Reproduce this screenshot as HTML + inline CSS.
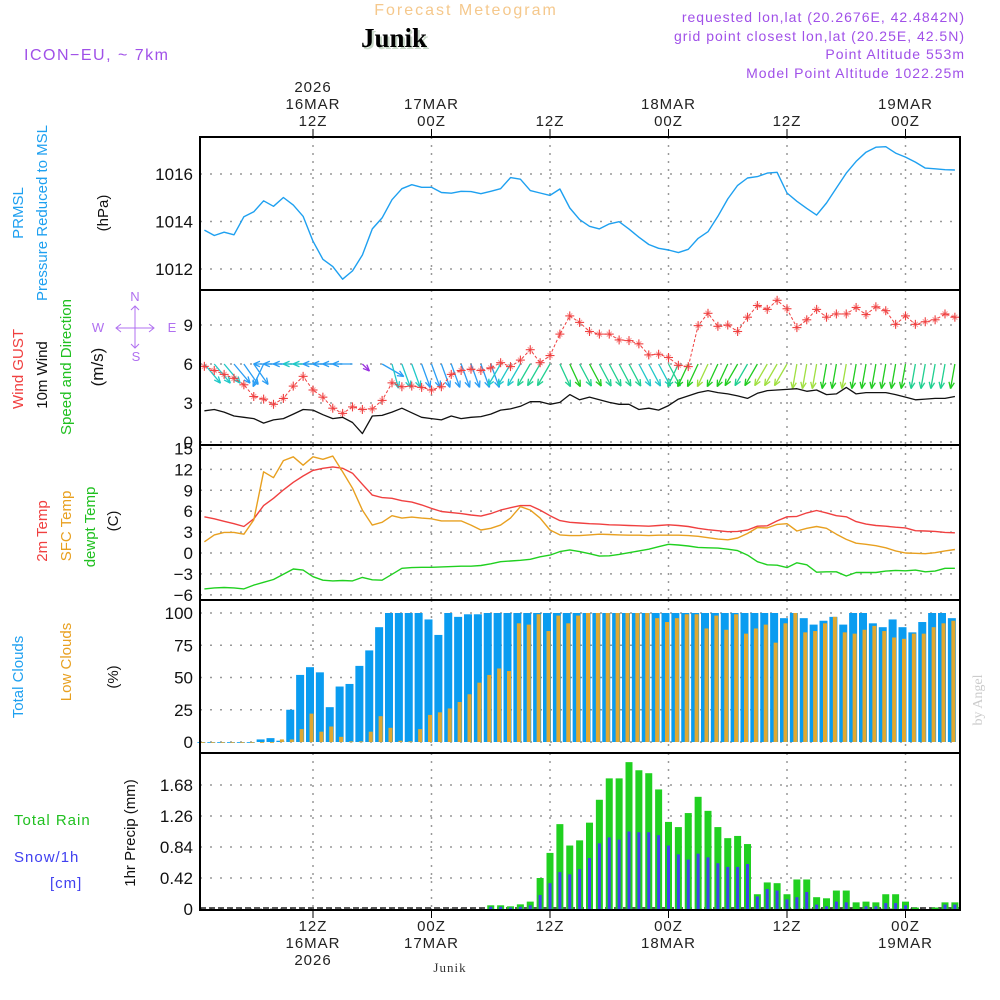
<!DOCTYPE html>
<html><head><meta charset="utf-8">
<style>
html,body{margin:0;padding:0;background:#fff;}
svg{display:block;font-family:"Liberation Sans","DejaVu Sans",sans-serif;}
.t{font-size:15px;fill:#222;letter-spacing:1px;}
.tk{font-size:17px;fill:#111;text-anchor:end;}
</style></head>
<body>
<svg id="chart" width="1000" height="1000" viewBox="0 0 1000 1000" xmlns="http://www.w3.org/2000/svg">
<g id="grid"></g>
<g id="marks"></g>
<g id="frames"></g>
<g id="labels"></g>
</svg>
<script>
// ---- data (hourly, hours since 00Z 16MAR, h = 1..77) ----
const hours = Array.from({length:77},(_,i)=>i+1);
const pressure = [1013.64,1013.41,1013.55,1013.44,1014.20,1014.41,1014.87,1014.64,1015.01,1014.69,1014.22,1013.17,1012.41,1012.10,1011.57,1011.92,1012.59,1013.69,1014.15,1014.92,1015.38,1015.55,1015.44,1015.44,1015.22,1015.19,1015.27,1015.26,1015.17,1015.27,1015.38,1015.85,1015.78,1015.30,1015.20,1015.10,1015.37,1014.57,1014.08,1013.80,1013.69,1013.90,1013.99,1013.68,1013.34,1013.03,1012.87,1012.80,1012.69,1012.83,1013.29,1013.57,1014.22,1014.95,1015.52,1015.83,1015.89,1016.04,1016.07,1015.20,1014.85,1014.55,1014.27,1014.78,1015.41,1016.04,1016.53,1016.92,1017.13,1017.15,1016.88,1016.71,1016.50,1016.25,1016.22,1016.18,1016.17];
const gust = [5.82,5.5,5.2,4.9,4.4,3.5,3.3,2.9,3.35,4.3,5.05,4.0,3.45,2.6,2.2,2.7,2.5,2.55,3.2,4.55,4.25,4.3,4.2,4.0,4.25,5.2,5.5,5.6,5.5,5.7,6.1,5.8,6.3,7.1,6.1,6.65,8.3,9.7,9.2,8.5,8.3,8.3,7.85,7.8,7.55,6.7,6.75,6.5,5.9,5.8,8.95,9.9,8.9,9.0,8.5,9.6,10.5,10.2,10.9,10.25,8.8,9.4,10.2,9.6,9.85,9.85,10.35,9.8,10.4,10.1,9.05,9.7,9.05,9.25,9.4,9.85,9.6];
const windSpeed = [2.4,2.5,2.3,2.0,1.9,1.8,1.45,1.7,1.8,2.15,2.5,2.45,2.1,1.8,1.9,1.5,0.65,2.0,2.05,2.3,2.6,2.25,1.9,1.8,1.7,2.0,1.8,1.9,1.95,2.15,2.45,2.55,2.75,3.1,3.1,2.9,3.05,3.65,3.25,3.45,3.25,3.05,2.9,2.9,2.5,2.6,2.45,2.8,3.3,3.55,3.8,3.95,3.8,3.7,3.55,3.35,3.75,3.95,4.0,4.05,4.1,3.9,4.0,3.65,3.7,4.2,3.7,3.8,3.8,3.8,3.65,3.45,3.25,3.3,3.35,3.35,3.5];
// arrow direction on screen: degrees from straight down, + = tip to the right; null = calm
const windArrowDeg = [40,40,40,40,35,35,-25,-90,-90,-90,-90,-90,-90,-90,-90,-90,45,null,60,15,20,20,20,20,20,20,20,20,20,20,-30,-30,-30,-30,-30,-30,25,25,28,28,28,28,28,28,28,28,28,28,-25,-25,-25,-25,-25,-25,-30,-30,-30,-30,-30,-30,-10,-10,-10,-10,-10,-10,-10,-10,-10,-10,-10,-10,-10,-10,-10,-10,-10];
const temp2m = [5.2,4.9,4.55,4.2,3.8,4.9,6.8,7.85,9.05,10.15,11.05,11.85,12.15,12.35,12.15,11.45,9.85,8.3,7.95,7.85,7.5,7.3,6.9,6.4,5.95,5.8,5.65,5.45,5.3,5.65,6.15,6.5,6.8,6.8,6.15,5.35,4.65,4.4,4.3,4.2,4.15,4.05,4.0,3.95,3.9,3.85,3.95,4.05,3.95,3.8,3.55,3.35,3.2,3.05,3.1,3.3,3.85,3.9,4.6,5.2,5.25,5.75,6.1,5.75,5.35,5.2,4.5,4.15,3.95,3.85,3.7,3.6,3.2,3.15,3.1,2.95,2.9];
const tempSfc = [1.6,2.6,2.95,2.95,2.7,4.75,11.65,10.8,13.25,13.8,12.6,13.8,13.45,13.9,11.65,9.3,6.15,4.0,4.4,5.35,5.0,5.15,5.0,4.9,4.6,4.6,4.6,4.0,3.3,3.55,4.0,5.0,6.65,6.15,5.0,3.3,2.6,2.5,2.5,2.6,2.7,2.65,2.6,2.55,2.55,2.5,2.55,2.55,2.55,2.5,2.4,2.2,2.0,1.9,2.15,2.8,3.65,3.6,4.1,4.2,3.15,3.55,3.8,3.55,2.7,1.95,1.4,1.25,1.05,0.75,0.3,0.0,-0.05,-0.1,0.05,0.3,0.5];
const dewpoint = [-5.15,-5.0,-4.95,-5.0,-5.15,-4.6,-4.2,-3.8,-3.05,-2.3,-2.45,-3.4,-3.9,-4.0,-3.95,-4.0,-3.5,-3.85,-3.9,-3.05,-2.2,-2.1,-2.05,-2.05,-2.0,-1.95,-1.9,-1.9,-1.8,-1.55,-1.25,-1.15,-1.05,-0.9,-0.55,-0.3,0.2,0.45,0.2,-0.1,-0.45,-0.4,-0.2,0.05,0.3,0.55,0.9,1.25,1.15,1.0,0.8,0.75,0.7,0.55,0.35,-0.3,-1.25,-1.7,-1.75,-2.1,-1.4,-1.7,-2.75,-2.7,-2.7,-3.3,-2.8,-2.8,-2.8,-2.6,-2.5,-2.55,-2.45,-2.7,-2.6,-2.2,-2.2];
const totalClouds = [0,0,0,0,0,0,2,3,1,25,52,58,54,27,43,45,59,71,89,100,100,100,100,95,83,100,97,99,99,100,100,100,100,100,100,100,100,100,100,100,100,100,100,100,100,100,100,100,100,100,100,100,100,100,100,100,100,100,100,96,100,96,91,94,97,91,100,100,92,89,95,89,85,93,100,100,96];
const lowClouds = [0,0,0,0,0,0,0,0,2,2,10,22,8,12,4,0.5,0.5,8,20,11,1,0.5,10,21,23,26,31,37,46,52,57,55,92,91,99,86,98,92,98,100,100,100,100,100,100,100,96,93,96,99,99,88,98,87,99,84,88,91,77,92,100,85,86,92,97,85,84,87,90,86,81,80,84,84,89,92,94];
const precipHours = [30,31,32,33,34,35,36,37,38,39,40,41,42,43,44,45,46,47,48,49,50,51,52,53,54,55,56,57,58,59,60,61,62,63,64,65,66,67,68,69,70,71,72,73,74,75,76,77];
const rainTotal = [0.05,0.05,0.036,0.063,0.10,0.42,0.76,1.15,0.86,0.93,1.17,1.48,1.77,1.77,1.99,1.88,1.84,1.62,1.18,1.11,1.30,1.52,1.33,1.11,0.96,0.99,0.88,0.20,0.36,0.35,0.20,0.40,0.40,0.16,0.145,0.25,0.25,0.09,0.10,0.09,0.20,0.20,0.10,0.02,0,0.02,0.09,0.09];
const snow = [0.03,0.03,0.02,0.03,0.05,0.19,0.35,0.50,0.47,0.54,0.69,0.89,0.97,0.94,1.05,1.04,1.04,1.0,0.86,0.74,0.67,0.75,0.70,0.62,0.57,0.57,0.61,0.17,0.27,0.25,0.13,0.16,0.23,0.06,0.036,0.10,0.09,0,0.036,0.036,0.08,0.08,0.05,0,0,0,0.06,0.06];
const timeTicks = [12,24,36,48,60,72];
const topTickLines = [["2026","16MAR","12Z"],["","17MAR","00Z"],["","","12Z"],["","18MAR","00Z"],["","","12Z"],["","19MAR","00Z"]];
const botTickLines = [["12Z","16MAR","2026"],["00Z","17MAR",""],["12Z","",""],["00Z","18MAR",""],["12Z","",""],["00Z","19MAR",""]];
const pTicks = [1016,1014,1012];
const wTicks = [9,6,3,0];
const tTicks = [15,12,9,6,3,0,-3,-6];
const cTicks = [100,75,50,25,0];
const rTicks = [1.68,1.26,0.84,0.42,0];

// ---- axes ----
const X0=200, X1=960;
const xH = h => 194.5 + h*9.875;
const yP = v => 174 + (1016-v)*23.75;
const yW = v => 442 - v*13.0;
const yT = v => 553 - v*6.97;
const yC = v => 742 - v*1.29;
const yR = v => 909 - v*73.8;
const panels = [[137,290],[290,445],[445,600],[600,753],[753,910]];

const NS='http://www.w3.org/2000/svg';
function mk(tag, attrs, parent){const e=document.createElementNS(NS,tag);for(const k in attrs)e.setAttribute(k,attrs[k]);parent.appendChild(e);return e;}
const grid=document.getElementById('grid'), marks=document.getElementById('marks'), frames=document.getElementById('frames'), labels=document.getElementById('labels');

// grid
panels.forEach(([a,b])=>{timeTicks.forEach(h=>{const l=mk('line',{x1:xH(h),x2:xH(h),y1:a,y2:b,stroke:'#999','stroke-dasharray':'2,6','stroke-width':1.5},grid);

});});
function hgrid(ticks,f){ticks.forEach(v=>{const l=mk('line',{x1:X0,x2:X1,y1:f(v),y2:f(v),stroke:'#999','stroke-dasharray':'2,8','stroke-width':1.5},grid);

});}
hgrid(pTicks,yP);hgrid(wTicks,yW);hgrid(tTicks,yT);hgrid(cTicks,yC);hgrid(rTicks,yR);

function line(vals,f,color,name,w){const pts=vals.map((v,i)=>xH(hours[i]).toFixed(1)+','+f(v).toFixed(1)).join(' ');
const p=mk('polyline',{points:pts,fill:'none',stroke:color,'stroke-width':w||1.4,'stroke-linejoin':'round'},marks);

return p;}

// pressure
line(pressure,yP,'#1ea0f0','pressure-line');
// wind arrows
function arrowColor(s){if(s<1)return '#9a30e0';if(s<2.2)return '#2a9df4';if(s<2.8)return '#20c8c8';if(s<3.4)return '#20d090';if(s<3.9)return '#20cc20';return '#a0e040';}
windArrowDeg.forEach((a,i)=>{if(a===null)return;const x=xH(hours[i]),y=yW(6);const L=windSpeed[i]<1?10:(Math.abs(a)>60?20:25);const r=a*Math.PI/180;
const ex=x+L*Math.sin(r),ey=y+L*Math.cos(r);const ang=Math.atan2(ey-y,ex-x);
const g=mk('g',{stroke:arrowColor(windSpeed[i]),'stroke-width':1.3,fill:'none'},marks);


mk('line',{x1:x,y1:y,x2:ex,y2:ey},g);
[0.4,-0.4].forEach(d=>mk('line',{x1:ex,y1:ey,x2:ex-7*Math.cos(ang+d),y2:ey-7*Math.sin(ang+d)},g));});
// gust
line(gust,yW,'#f04040','wind-gust-line',1.0).setAttribute('stroke-dasharray','3,2');
gust.forEach((v,i)=>{const x=xH(hours[i]),y=yW(v);const g=mk('g',{stroke:'#f04040','stroke-width':1.1},marks);


mk('line',{x1:x-4.5,x2:x+4.5,y1:y,y2:y},g);mk('line',{x1:x,x2:x,y1:y-4.5,y2:y+4.5},g);mk('line',{x1:x-2.5,x2:x+2.5,y1:y-2.5,y2:y+2.5,'stroke-opacity':0.5},g);mk('line',{x1:x-2.5,x2:x+2.5,y1:y+2.5,y2:y-2.5,'stroke-opacity':0.5},g);});
line(windSpeed,yW,'#111','wind-speed-line',1.3);
// temps
line(temp2m,yT,'#f04040','temp-2m-line');
line(tempSfc,yT,'#e8a020','temp-sfc-line');
line(dewpoint,yT,'#20d020','dewpoint-line');
// clouds
totalClouds.forEach((v,i)=>{const cx=xH(hours[i])-3;
const r=mk('rect',{x:cx-4,y:yC(v),width:8,height:Math.max(yC(0)-yC(v),0.8),fill:'#0a9cf0'},marks);

});
lowClouds.forEach((v,i)=>{const cx=xH(hours[i])-3;
const r=mk('rect',{x:cx-0.5,y:yC(v),width:4,height:Math.max(yC(0)-yC(v),0.8),fill:'#e0a830'},marks);

});
// precip
const zl=mk('line',{x1:X0,x2:X1,y1:yR(0)-1,y2:yR(0)-1,stroke:'#222','stroke-dasharray':'6,3','stroke-width':1.5},marks);


rainTotal.forEach((v,i)=>{const cx=xH(precipHours[i]);
const r=mk('rect',{x:cx-3.5,y:yR(v),width:7,height:yR(0)-yR(v),fill:'#20d020'},marks);

});
snow.forEach((v,i)=>{const cx=xH(precipHours[i]);
const r=mk('rect',{x:cx-1.5,y:yR(v),width:3,height:yR(0)-yR(v),fill:'#4040f0'},marks);

});

// frames
panels.forEach(([a,b],k)=>{const r=mk('rect',{x:X0,y:a,width:X1-X0,height:b-a,fill:'none',stroke:'#000','stroke-width':2},frames);

});
timeTicks.forEach(h=>{mk('line',{x1:xH(h),x2:xH(h),y1:129,y2:137,stroke:'#000'},frames);mk('line',{x1:xH(h),x2:xH(h),y1:910,y2:918,stroke:'#000'},frames);});

// tick labels
function yt(ticks,f,fmt,name){ticks.forEach(v=>{const t=mk('text',{x:193,y:f(v)+6,class:'tk'},labels);t.textContent=fmt(v);

});}
yt(pTicks,yP,v=>String(v),'pressure-tick');yt(wTicks,yW,v=>String(v),'wind-tick');yt(tTicks,yT,v=>(v<0?'\u2212'+(-v):String(v)),'temp-tick');yt(cTicks,yC,v=>String(v),'cloud-tick');yt(rTicks,yR,v=>v===0?'0':v.toFixed(2),'precip-tick');
timeTicks.forEach((h,k)=>{topTickLines[k].forEach((s,j)=>{if(!s)return;const t=mk('text',{x:xH(h),y:92+j*17,class:'t','text-anchor':'middle'},labels);t.textContent=s;

});
botTickLines[k].forEach((s,j)=>{if(!s)return;const t=mk('text',{x:xH(h),y:931+j*17,class:'t','text-anchor':'middle'},labels);t.textContent=s;

});});
</script>
<svg style="position:absolute;left:0;top:0" width="1000" height="1000" xmlns="http://www.w3.org/2000/svg">
<g font-family="Liberation Sans, DejaVu Sans, sans-serif">
<text x="466" y="15" font-size="16" fill="#f5c88c" text-anchor="middle" letter-spacing="2">Forecast Meteogram</text>
<text x="396" y="49" font-size="27" font-weight="bold" font-family="Liberation Serif, serif" fill="#c8d8c8" text-anchor="middle">Junik</text>
<text x="394" y="47" font-size="27" font-weight="bold" font-family="Liberation Serif, serif" fill="#000" text-anchor="middle">Junik</text>
<text x="24" y="60" font-size="16" fill="#a050e8" letter-spacing="1.5">ICON−EU, ~ 7km</text>
<g font-size="14" fill="#a050e8" text-anchor="end" letter-spacing="1">
<text x="965" y="22">requested lon,lat (20.2676E, 42.4842N)</text>
<text x="965" y="41">grid point closest lon,lat (20.25E, 42.5N)</text>
<text x="965" y="59">Point Altitude 553m</text>
<text x="965" y="78">Model Point Altitude 1022.25m</text>
</g>
<g font-size="15">
<text transform="translate(23,213) rotate(-90)" text-anchor="middle" fill="#1ea0f0">PRMSL</text>
<text transform="translate(47,213) rotate(-90)" text-anchor="middle" fill="#1ea0f0">Pressure Reduced to MSL</text>
<text transform="translate(108,213) rotate(-90)" text-anchor="middle" fill="#111">(hPa)</text>
<text transform="translate(23,369) rotate(-90)" text-anchor="middle" fill="#f04040">Wind GUST</text>
<text transform="translate(47,375) rotate(-90)" text-anchor="middle" fill="#111">10m Wind</text>
<text transform="translate(71,367) rotate(-90)" text-anchor="middle" fill="#20c020">Speed and Direction</text>
<text transform="translate(103,367) rotate(-90)" text-anchor="middle" fill="#111" font-size="17">(m/s)</text>
<text transform="translate(47,531) rotate(-90)" text-anchor="middle" fill="#f04040">2m Temp</text>
<text transform="translate(71,526) rotate(-90)" text-anchor="middle" fill="#e8a020">SFC Temp</text>
<text transform="translate(95,527) rotate(-90)" text-anchor="middle" fill="#20c020">dewpt Temp</text>
<text transform="translate(118,521) rotate(-90)" text-anchor="middle" fill="#111">(C)</text>
<text transform="translate(23,677) rotate(-90)" text-anchor="middle" fill="#1ea0f0">Total Clouds</text>
<text transform="translate(71,662) rotate(-90)" text-anchor="middle" fill="#e8a020">Low Clouds</text>
<text transform="translate(118,677) rotate(-90)" text-anchor="middle" fill="#111">(%)</text>
<text transform="translate(135,833) rotate(-90)" text-anchor="middle" fill="#111">1hr Precip (mm)</text>
<text x="14" y="825" fill="#20c020" letter-spacing="1">Total  Rain</text>
<text x="14" y="862" fill="#4040f0" letter-spacing="1">Snow/1h</text>
<text x="50" y="888" fill="#4040f0" letter-spacing="1">[cm]</text>
</g>
<g font-size="13" fill="#b070f0" text-anchor="middle">
<text x="135" y="301">N</text>
<text x="98" y="332">W</text><text x="172" y="332">E</text>
<text x="136" y="361">S</text>
<g stroke="#b070f0" stroke-width="1" fill="none">
<line x1="116" y1="328" x2="154" y2="328"/>
<polyline points="121,324 116,328 121,332"/><polyline points="149,324 154,328 149,332"/>
<line x1="135" y1="306" x2="135" y2="348"/>
<polyline points="131,310 135,306 139,310"/><polyline points="131,344 135,348 139,344"/>
</g>
</g>
<text x="450" y="972" font-size="13" font-family="Liberation Serif, serif" fill="#333" text-anchor="middle" letter-spacing="1">Junik</text>
<text transform="translate(982,700) rotate(-90)" font-size="14" font-family="Liberation Serif, serif" fill="#ccc" text-anchor="middle">by Angel</text>
</g>
</svg>
</body></html>
